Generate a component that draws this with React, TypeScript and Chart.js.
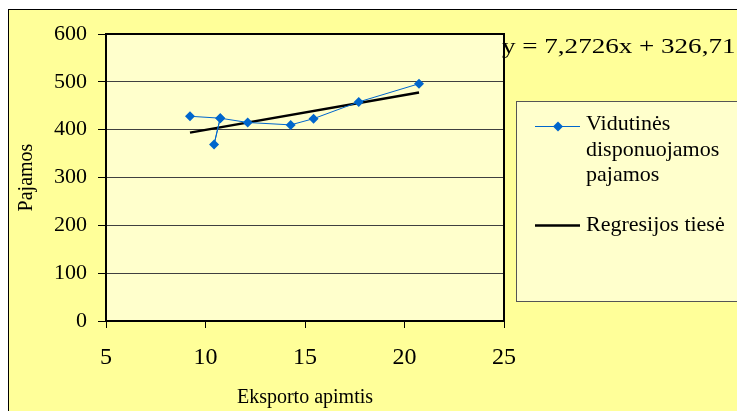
import React, { useEffect, useRef } from "react";
import { Chart, registerables } from "chart.js";

Chart.register(...registerables);

const seriesLabel = ["Vidutinės", "disponuojamos", "pajamos"];
const regressionLabel = "Regresijos tiesė";
const equationText = "y = 7,2726x + 326,71";
const xTitle = "Eksporto apimtis";
const yTitle = "Pajamos";

const exportX = [9.22, 10.74, 10.43, 10.74, 12.12, 14.28, 15.43, 17.7, 20.73];
const incomeY = [428, 424, 369, 424, 415, 410, 423, 458, 496];
const regressionX = [9.22, 20.73];
const regressionY = [393.8, 477.5];

const FONT = "'Liberation Serif', 'Times New Roman', serif";

export default function App() {
  const ref = useRef<HTMLCanvasElement>(null);

  useEffect(() => {
    const canvas = ref.current;
    if (!canvas) return;

    const bgPlugin = {
      id: "bgPlugin",
      beforeDraw(chart: any) {
        const { ctx, width, height, chartArea } = chart;
        ctx.save();
        ctx.fillStyle = "#FFFFFF";
        ctx.fillRect(0, 0, width, height);
        ctx.fillStyle = "#FFFF99";
        ctx.fillRect(0, 1, width, height - 1);
        ctx.fillStyle = "#000000";
        ctx.fillRect(0, 1, width, 1);
        ctx.fillRect(0, 1, 1, height - 1);
        ctx.fillStyle = "#FFFFCC";
        ctx.fillRect(chartArea.left, chartArea.top, chartArea.right - chartArea.left, chartArea.bottom - chartArea.top);
        ctx.restore();
      },
      afterDraw(chart: any) {
        const { ctx, chartArea } = chart;
        ctx.save();
        ctx.strokeStyle = "#000000";
        ctx.lineWidth = 2;
        ctx.strokeRect(chartArea.left, chartArea.top, chartArea.right - chartArea.left, chartArea.bottom - chartArea.top);

        ctx.fillStyle = "#FFFFCC";
        ctx.fillRect(508.5, 93.5, 240, 200);
        ctx.strokeStyle = "#555555";
        ctx.lineWidth = 1;
        ctx.strokeRect(508.5, 93.5, 240, 200);

        ctx.strokeStyle = "#0066CC";
        ctx.lineWidth = 1;
        ctx.beginPath();
        ctx.moveTo(527, 118.5);
        ctx.lineTo(572, 118.5);
        ctx.stroke();
        ctx.fillStyle = "#0066CC";
        ctx.beginPath();
        ctx.moveTo(550, 113.5);
        ctx.lineTo(555, 118.5);
        ctx.lineTo(550, 123.5);
        ctx.lineTo(545, 118.5);
        ctx.closePath();
        ctx.fill();

        ctx.fillStyle = "#000000";
        ctx.font = `22px ${FONT}`;
        ctx.textBaseline = "middle";
        ctx.textAlign = "left";
        seriesLabel.forEach((t, i) => ctx.fillText(t, 578, 116.5 + i * 25.5));

        ctx.strokeStyle = "#000000";
        ctx.lineWidth = 2.5;
        ctx.beginPath();
        ctx.moveTo(527, 217.5);
        ctx.lineTo(572, 217.5);
        ctx.stroke();
        ctx.fillText(regressionLabel, 578, 217.5);

        ctx.textBaseline = "alphabetic";
        ctx.translate(494, 45);
        ctx.scale(1.23, 1);
        ctx.fillText(equationText, 0, 0);
        ctx.restore();
      },
    };

    const chart = new Chart(canvas, {
      type: "scatter",
      data: {
        datasets: [
          {
            label: seriesLabel.join(" "),
            data: exportX.map((x, i) => ({ x, y: incomeY[i] })),
            showLine: true,
            borderColor: "#0066CC",
            backgroundColor: "#0066CC",
            borderWidth: 1,
            pointStyle: "rectRot",
            pointRadius: 5,
            pointBorderWidth: 0,
            order: 0,
          },
          {
            label: regressionLabel,
            data: regressionX.map((x, i) => ({ x, y: regressionY[i] })),
            showLine: true,
            borderColor: "#000000",
            backgroundColor: "#000000",
            borderWidth: 2.5,
            pointRadius: 0,
            order: 1,
          },
        ],
      },
      options: {
        responsive: false,
        animation: false,
        devicePixelRatio: 1,
        layout: { padding: { top: 26, right: 233, left: 0, bottom: 0 } },
        plugins: {
          legend: { display: false },
          tooltip: { enabled: false },
          title: { display: false },
        },
        scales: {
          x: {
            type: "linear",
            min: 5,
            max: 25,
            afterFit(scale: any) {
              scale.height = 90;
            },
            ticks: {
              stepSize: 5,
              color: "#000000",
              padding: 15,
              font: { family: FONT, size: 24 },
            },
            grid: {
              drawOnChartArea: false,
              drawTicks: true,
              tickLength: 7,
              tickColor: "#000000",
              tickWidth: 1,
            },
            border: { display: false },
            title: {
              display: true,
              text: xTitle,
              color: "#000000",
              font: { family: FONT, size: 20 },
              padding: { top: 0, bottom: 1 },
            },
          },
          y: {
            min: 0,
            max: 600,
            afterFit(scale: any) {
              scale.width = 98;
            },
            ticks: {
              stepSize: 100,
              color: "#000000",
              padding: 11,
              font: { family: FONT, size: 22 },
            },
            grid: {
              color: "#404040",
              lineWidth: 1,
              drawTicks: true,
              tickLength: 8,
              tickColor: "#000000",
            },
            border: { display: false },
            title: {
              display: true,
              text: yTitle,
              color: "#000000",
              font: { family: FONT, size: 20 },
              padding: { top: 7, bottom: 0 },
            },
          },
        },
      },
      plugins: [bgPlugin],
    } as any);

    return () => chart.destroy();
  }, []);

  return (
    <div style={{ position: "fixed", left: 8, top: 8, width: 729, height: 403 }}>
      <canvas ref={ref} width={729} height={403} style={{ display: "block" }} />
    </div>
  );
}
